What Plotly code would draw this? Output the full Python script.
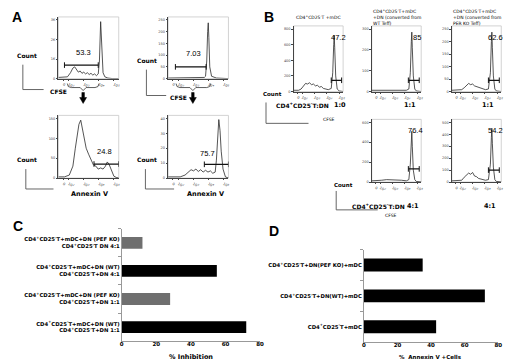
import plotly.graph_objects as go

W, H = 520, 360

# ---------------- data ----------------
# Panel A histograms (x = position on log CFSE/Annexin axis, y = fraction of max count)
a_tl_x = [0.0, 0.08, 0.15, 0.2, 0.24, 0.27, 0.3, 0.33, 0.36, 0.39, 0.42, 0.45, 0.48, 0.51, 0.54, 0.57, 0.6, 0.63, 0.66, 0.68, 0.7, 0.72, 0.74, 0.77, 0.82, 0.9, 1.0]
a_tl_y = [0.02, 0.02, 0.03, 0.1, 0.18, 0.2, 0.15, 0.11, 0.13, 0.09, 0.11, 0.08, 0.1, 0.07, 0.09, 0.06, 0.08, 0.05, 0.08, 0.3, 0.97, 0.45, 0.1, 0.03, 0.01, 0.0, 0.0]
a_tr_x = [0.0, 0.1, 0.2, 0.3, 0.4, 0.5, 0.6, 0.62, 0.64, 0.655, 0.665, 0.675, 0.69, 0.72, 0.8, 1.0]
a_tr_y = [0.01, 0.01, 0.02, 0.01, 0.02, 0.01, 0.02, 0.04, 0.3, 0.8, 0.95, 0.7, 0.2, 0.04, 0.01, 0.0]
a_bl_x = [0.0, 0.1, 0.18, 0.24, 0.28, 0.31, 0.34, 0.37, 0.4, 0.43, 0.46, 0.5, 0.54, 0.58, 0.62, 0.66, 0.7, 0.74, 0.78, 0.81, 0.84, 0.88, 0.92, 0.96, 1.0]
a_bl_y = [0.02, 0.02, 0.05, 0.2, 0.5, 0.75, 0.9, 0.97, 0.8, 0.68, 0.5, 0.4, 0.3, 0.22, 0.2, 0.15, 0.17, 0.15, 0.2, 0.27, 0.23, 0.12, 0.03, 0.01, 0.0]
a_br_x = [0.0, 0.1, 0.2, 0.28, 0.34, 0.38, 0.42, 0.46, 0.5, 0.54, 0.58, 0.62, 0.66, 0.7, 0.74, 0.78, 0.8, 0.82, 0.84, 0.86, 0.88, 0.91, 0.95, 1.0]
a_br_y = [0.02, 0.02, 0.02, 0.05, 0.1, 0.14, 0.12, 0.15, 0.11, 0.14, 0.1, 0.13, 0.1, 0.12, 0.08, 0.1, 0.3, 0.7, 0.98, 0.8, 0.45, 0.15, 0.02, 0.0]

# Panel B histograms
b1_x = [0.0, 0.1, 0.15, 0.2, 0.24, 0.28, 0.32, 0.36, 0.4, 0.44, 0.48, 0.52, 0.56, 0.6, 0.64, 0.7, 0.76, 0.79, 0.81, 0.82, 0.83, 0.85, 0.88, 0.92, 1.0]
b1_y = [0.02, 0.02, 0.04, 0.1, 0.13, 0.12, 0.14, 0.11, 0.12, 0.09, 0.1, 0.07, 0.08, 0.05, 0.04, 0.03, 0.05, 0.3, 0.75, 0.9, 0.7, 0.25, 0.04, 0.01, 0.0]
b2_x = [0.0, 0.1, 0.2, 0.3, 0.4, 0.5, 0.6, 0.7, 0.75, 0.78, 0.8, 0.81, 0.82, 0.84, 0.87, 0.9, 1.0]
b2_y = [0.02, 0.02, 0.03, 0.03, 0.03, 0.02, 0.02, 0.02, 0.04, 0.3, 0.8, 0.95, 0.7, 0.25, 0.04, 0.01, 0.0]
b3_x = [0.0, 0.1, 0.2, 0.25, 0.3, 0.34, 0.38, 0.42, 0.46, 0.5, 0.54, 0.58, 0.62, 0.68, 0.74, 0.78, 0.8, 0.81, 0.82, 0.84, 0.87, 0.9, 1.0]
b3_y = [0.02, 0.02, 0.03, 0.06, 0.1, 0.13, 0.11, 0.12, 0.09, 0.08, 0.06, 0.05, 0.04, 0.03, 0.04, 0.3, 0.8, 0.95, 0.7, 0.25, 0.04, 0.01, 0.0]
b4_x = [0.0, 0.1, 0.2, 0.3, 0.4, 0.5, 0.6, 0.7, 0.75, 0.78, 0.8, 0.81, 0.82, 0.84, 0.87, 0.9, 1.0]
b4_y = [0.02, 0.02, 0.03, 0.04, 0.04, 0.03, 0.03, 0.02, 0.04, 0.3, 0.75, 0.85, 0.6, 0.2, 0.04, 0.01, 0.0]
b5_x = [0.0, 0.1, 0.2, 0.25, 0.3, 0.34, 0.38, 0.42, 0.46, 0.5, 0.54, 0.58, 0.62, 0.68, 0.74, 0.78, 0.8, 0.81, 0.82, 0.84, 0.87, 0.9, 1.0]
b5_y = [0.02, 0.02, 0.03, 0.08, 0.12, 0.15, 0.13, 0.16, 0.1, 0.09, 0.06, 0.05, 0.04, 0.03, 0.04, 0.3, 0.75, 0.9, 0.65, 0.25, 0.04, 0.01, 0.0]

# gates: [start, end, height]
a_gates = [[0.1, 0.66, 0.23], [0.12, 0.63, 0.2], [0.59, 1.0, 0.235], [0.6, 1.0, 0.23]]
b_gates = [[0.76, 0.97, 0.18], [0.74, 0.96, 0.18], [0.74, 0.96, 0.18], [0.74, 0.96, 0.22], [0.74, 0.96, 0.2]]
a_labels = ["53.3", "7.03", "24.8", "75.7"]
b_labels = ["47.2", "85", "62.6", "76.4", "54.2"]

hist_xtick_vals = [0.08, 0.17, 0.42, 0.67, 0.92]
hist_xtick_text = ["0", "10<sup>2</sup>", "10<sup>3</sup>", "10<sup>4</sup>", "10<sup>5</sup>"]
a_ytick_text = [["0", "1K", "2K", "3K"], ["0", "50", "100", "150", "200", "250"],
                ["0", "50", "100", "150"], ["0", "10", "20", "30", "40"]]
b_ytick_text = [["0", "200", "400", "600", "800"], ["0", "100", "200", "300"],
                ["0", "50", "100", "150", "200", "250"], ["0", "200", "400", "600"],
                ["0", "100", "200", "300", "400", "500"]]

S = "CD4<sup>+</sup>CD25<sup>-</sup>T"
b_titles = [S + " +mDC",
            S + "+mDC<br>+DN (converted from<br>WT Teff)",
            S + "+mDC<br>+DN (converted from<br>PER KO Teff)"]

# Panel C
c_categories = ["<b>" + S + "+mDC+DN (PEF KO)<br>" + S + " DN 4:1</b>",
                "<b>" + S + "+mDC+DN (WT)<br>" + S + "+DN 4:1</b>",
                "<b>" + S + "+mDC+DN (PEF KO)<br>" + S + "+DN 1:1</b>",
                "<b>" + S + "+mDC+DN (WT)<br>" + S + "+DN 1:1</b>"]
c_values = [12, 55, 28, 72]
c_colors = ["#6f6f6f", "#000000", "#6f6f6f", "#000000"]

# Panel D
d_categories = ["<b>" + S + "+DN(PEF KO)+mDC</b>",
                "<b>" + S + "+DN(WT)+mDC</b>",
                "<b>" + S + "+mDC</b>"]
d_values = [35, 72, 43]

# ---------------- helpers ----------------
def px(x, y):
    return x / W, 1 - y / H

def xdom(a, b):
    return [a / W, b / W]

def ydom(top, bot):
    return [1 - bot / H, 1 - top / H]

fig = go.Figure()
layout = dict(width=W, height=H, margin=dict(l=0, r=0, t=0, b=0),
              paper_bgcolor="white", plot_bgcolor="white", showlegend=False,
              font=dict(family="DejaVu Sans", color="black"))
shapes = []
annotations = []

hist_series = [(a_tl_x, a_tl_y), (a_tr_x, a_tr_y), (a_bl_x, a_bl_y), (a_br_x, a_br_y),
               (b1_x, b1_y), (b2_x, b2_y), (b3_x, b3_y), (b4_x, b4_y), (b5_x, b5_y)]
hist_boxes = [(49, 110, 9, 71), (160, 221, 9, 71), (49, 110, 108, 171), (160, 221, 108, 171),
              (287, 337, 18, 84), (366, 416, 18, 84), (447, 497, 18, 84),
              (366, 416, 112, 175), (447, 497, 112, 175)]
gates = a_gates + b_gates
labels = a_labels + b_labels
yticks = a_ytick_text + b_ytick_text
label_pos = [(0.42, 0.45), (0.42, 0.42), (0.77, 0.45), (0.66, 0.41),
             (0.9, 0.86), (0.92, 0.86), (0.88, 0.86), (0.88, 0.86), (0.88, 0.86)]

for i, ((hx, hy), box, g, lab, yt, lp) in enumerate(zip(hist_series, hist_boxes, gates, labels, yticks, label_pos), start=1):
    sfx = "" if i == 1 else str(i)
    x0, x1, y0, y1 = box
    n = len(yt)
    tv = [k / (n - 1) for k in range(n)]
    layout["xaxis" + sfx] = dict(domain=xdom(x0, x1), anchor="y" + sfx, range=[0, 1],
                                 showgrid=False, zeroline=False, showline=True, linecolor="#444", linewidth=0.8,
                                 ticks="outside", ticklen=1.5, tickwidth=0.5, tickcolor="#444",
                                 tickvals=hist_xtick_vals, ticktext=hist_xtick_text,
                                 tickfont=dict(size=3.5, color="#444"), fixedrange=True)
    layout["yaxis" + sfx] = dict(domain=ydom(y0, y1), anchor="x" + sfx, range=[0, 1.05],
                                 showgrid=False, zeroline=False, showline=True, linecolor="#444", linewidth=0.8,
                                 ticks="outside", ticklen=1.5, tickwidth=0.5, tickcolor="#444",
                                 tickvals=tv, ticktext=yt, tickfont=dict(size=3.5, color="#444"), fixedrange=True)
    # light frame
    shapes.append(dict(type="rect", xref="paper", yref="paper", x0=x0 / W, x1=x1 / W,
                       y0=1 - y1 / H, y1=1 - y0 / H, line=dict(color="#c8c8c8", width=0.8), layer="below"))
    fig.add_trace(go.Scatter(x=hx, y=hy, mode="lines", line=dict(color="#2a2a2a", width=0.8),
                             xaxis="x" + sfx, yaxis="y" + sfx, hoverinfo="skip"))
    fig.add_trace(go.Scatter(x=[g[0], g[1]], y=[g[2], g[2]], mode="lines+markers",
                             line=dict(color="#111", width=1.3),
                             marker=dict(symbol="line-ns", size=4, line=dict(width=1, color="#111")),
                             xaxis="x" + sfx, yaxis="y" + sfx, hoverinfo="skip"))
    annotations.append(dict(x=lp[0], y=lp[1], xref="x" + sfx, yref="y" + sfx, text=lab,
                            showarrow=False, font=dict(size=7.5, family="Liberation Sans", color="#000000")))

# ---- Panel C bar chart ----
fig.add_trace(go.Bar(x=c_values, y=c_categories, orientation="h", marker=dict(color=c_colors, line=dict(width=0)),
                     width=0.42, xaxis="x10", yaxis="y10", hoverinfo="skip"))
layout["xaxis10"] = dict(domain=xdom(113, 253), anchor="y10", range=[0, 80], dtick=20,
                         showgrid=False, zeroline=False, showline=True, linecolor="#999", linewidth=0.8,
                         ticks="outside", ticklen=1, tickcolor="#999", ticklabelstandoff=-4,
                         tickfont=dict(size=5.5, weight="bold"), fixedrange=True)
layout["yaxis10"] = dict(domain=ydom(222, 335), anchor="x10", autorange="reversed",
                         categoryorder="array", categoryarray=c_categories,
                         showgrid=False, zeroline=False, showline=True, linecolor="#999", linewidth=0.8,
                         ticks="outside", ticklen=3, tickcolor="#999", tickson="boundaries",
                         tickfont=dict(size=5.3), fixedrange=True)

# ---- Panel D bar chart ----
fig.add_trace(go.Bar(x=d_values, y=d_categories, orientation="h", marker=dict(color="#000", line=dict(width=0)),
                     width=0.42, xaxis="x11", yaxis="y11", hoverinfo="skip"))
layout["xaxis11"] = dict(domain=xdom(358, 494), anchor="y11", range=[0, 80], dtick=20,
                         showgrid=False, zeroline=False, showline=True, linecolor="#999", linewidth=0.8,
                         ticks="outside", ticklen=1, tickcolor="#999", ticklabelstandoff=-4,
                         tickfont=dict(size=5.5, weight="bold"), fixedrange=True)
layout["yaxis11"] = dict(domain=ydom(243, 336), anchor="x11", autorange="reversed",
                         categoryorder="array", categoryarray=d_categories,
                         showgrid=False, zeroline=False, showline=True, linecolor="#999", linewidth=0.8,
                         ticks="outside", ticklen=3, tickcolor="#999", tickson="boundaries",
                         tickfont=dict(size=5.3), fixedrange=True)

# ---------------- annotations ----------------
def txt(x, y, s, size, bold=True, xa="left", ya="middle", fam="DejaVu Sans", align="left", color="black"):
    px_, py_ = px(x, y)
    annotations.append(dict(x=px_, y=py_, xref="paper", yref="paper", text=("<b>%s</b>" % s) if bold else s,
                            showarrow=False, xanchor=xa, yanchor=ya, align=align, borderpad=0,
                            font=dict(size=size, family=fam, color=color)))

def path(points, width=0.9, color="#555", fill=None):
    p = "M " + " L ".join("%f,%f" % px(x, y) for x, y in points)
    d = dict(type="path", xref="paper", yref="paper", path=p + (" Z" if fill else ""),
             line=dict(color=color, width=width))
    if fill:
        d["fillcolor"] = fill
    shapes.append(d)

# panel letters
txt(1, 9, "A", 14, fam="Liberation Sans")
txt(256, 9, "B", 14, fam="Liberation Sans")
txt(2, 219, "C", 14, fam="Liberation Sans")
txt(261, 224, "D", 14, fam="Liberation Sans")

# Panel A axis labels
txt(6, 48, "Count", 6)
path([(13, 57), (13, 82), (34, 82)])
txt(39, 84, "CFSE", 6)
txt(127, 53, "Count", 6)
path([(138, 62), (138, 88), (158, 88)])
txt(161, 90, "CFSE", 6)
txt(6, 152, "Count", 6)
path([(16, 162), (16, 182), (44, 182)])
txt(80, 187, "Annexin V", 6.5, xa="center")
txt(127, 152, "Count", 6)
path([(137, 162), (137, 182), (166, 182)])
txt(198, 187, "Annexin V", 6.5, xa="center")

# braces + arrows (panel A)
for cx, bx0, bx1 in [(74, 58, 90), (185, 168, 203)]:
    path([(bx0, 76), (bx0 + 1, 79), (bx0 + 4, 80), (cx - 3, 80), (cx, 83), (cx + 3, 80), (bx1 - 4, 80), (bx1 - 1, 79), (bx1, 76)],
         width=0.8, color="#333")
    path([(cx - 1.3, 85), (cx + 1.3, 85), (cx + 1.3, 90), (cx + 3.5, 90), (cx, 96), (cx - 3.5, 90), (cx - 1.3, 90)],
         width=0.5, color="#000", fill="#000")

# Panel B titles
txt(312, 9, b_titles[0], 4.5, bold=False, xa="center")
txt(366, 9, b_titles[1], 4.5, bold=False)
txt(447, 9, b_titles[2], 4.5, bold=False)

# Panel B axis labels
txt(255, 86, "Count", 5.5)
path([(259, 95), (259, 116), (302, 116)])
txt(316, 112, "CFSE", 4.5, bold=False)
txt(268, 98, "CD4<sup>+</sup>CD25<sup>-</sup>T:DN", 6)
txt(334, 98, "1:0", 6.5, xa="center")
txt(405, 98, "1:1", 6.5, xa="center")
txt(484, 98, "1:1", 6.5, xa="center")

txt(327, 178, "Count", 5.5)
path([(330, 184), (330, 203), (372, 203)])
txt(378, 209, "CFSE", 4.5, bold=False)
txt(345, 199, "CD4<sup>+</sup>CD25<sup>-</sup>T:DN", 6)
txt(408, 199, "4:1", 6.5, xa="center")
txt(486, 199, "4:1", 6.5, xa="center")

# bar chart axis titles
txt(183, 351, "% Inhibition", 6.5, xa="center")
txt(425, 351, "%  Annexin V +Cells", 5.5, xa="center")

layout["shapes"] = shapes
layout["annotations"] = annotations
fig.update_layout(**layout)
fig.write_html("out.html")
